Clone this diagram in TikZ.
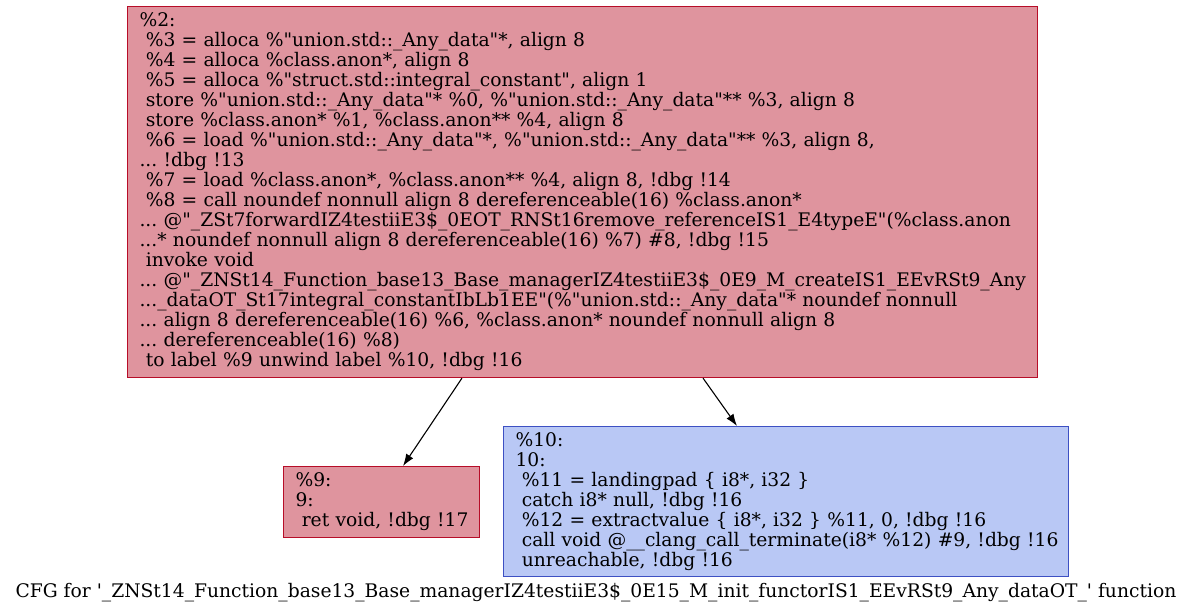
\documentclass[tikz,border=0pt]{standalone}
\usepackage{fontspec}
\usetikzlibrary{arrows.meta,calc}
% plain family without TeX ligatures, so quotes stay straight
\newfontfamily\gv{DejaVu Serif}
\definecolor{redfill}{RGB}{223,148,158}
\definecolor{redline}{HTML}{B70D28}
\definecolor{bluefill}{RGB}{185,200,245}
\definecolor{blueline}{HTML}{3D50C3}
\tikzset{
  gvfont/.style={font={\gv\fontsize{18.7}{20}\selectfont\frenchspacing\hyphenpenalty=10000}},
  block/.style={gvfont, rectangle, draw, line width=1.1pt, anchor=north west,
    align=left, inner xsep=12pt, inner ysep=0pt},
  hot/.style={block, fill=redfill, draw=redline},
  cold/.style={block, fill=bluefill, draw=blueline},
  edge/.style={line width=1.1pt, -{Latex[length=12pt,width=8.5pt]}}
}
\begin{document}
\begin{tikzpicture}[x=1pt,y=-1pt]
\useasboundingbox (0,0) rectangle (1193,613);

\node[hot, text width=886pt, minimum height=371pt] (b2) at (127,6) {%
\mbox{\%2:}\\
\mbox{\ \%3 = alloca \%"union.std::\_Any\_data"*, align 8}\\
\mbox{\ \%4 = alloca \%class.anon*, align 8}\\
\mbox{\ \%5 = alloca \%"struct.std::integral\_constant", align 1}\\
\mbox{\ store \%"union.std::\_Any\_data"* \%0, \%"union.std::\_Any\_data"** \%3, align 8}\\
\mbox{\ store \%class.anon* \%1, \%class.anon** \%4, align 8}\\
\mbox{\ \%6 = load \%"union.std::\_Any\_data"*, \%"union.std::\_Any\_data"** \%3, align 8,}\\
\mbox{... !dbg !13}\\
\mbox{\ \%7 = load \%class.anon*, \%class.anon** \%4, align 8, !dbg !14}\\
\mbox{\ \%8 = call noundef nonnull align 8 dereferenceable(16) \%class.anon*}\\
\mbox{... @"\_ZSt7forwardIZ4testiiE3\$\_0EOT\_RNSt16remove\_referenceIS1\_E4typeE"(\%class.anon}\\
\mbox{...* noundef nonnull align 8 dereferenceable(16) \%7) \#8, !dbg !15}\\
\mbox{\ invoke void}\\
\mbox{... @"\_ZNSt14\_Function\_base13\_Base\_managerIZ4testiiE3\$\_0E9\_M\_createIS1\_EEvRSt9\_Any}\\
\mbox{...\_dataOT\_St17integral\_constantIbLb1EE"(\%"union.std::\_Any\_data"* noundef nonnull}\\
\mbox{... align 8 dereferenceable(16) \%6, \%class.anon* noundef nonnull align 8}\\
\mbox{... dereferenceable(16) \%8)}\\
\mbox{\ to label \%9 unwind label \%10, !dbg !16}};

\node[hot, text width=172pt, minimum height=71pt] (b9) at (283,466) {%
\mbox{\%9:}\\
\mbox{9:}\\
\mbox{\ ret void, !dbg !17}};

\node[cold, text width=541pt, minimum height=150pt] (b10) at (503,426) {%
\mbox{\%10:}\\
\mbox{10:}\\
\mbox{\ \%11 = landingpad \{ i8*, i32 \}}\\
\mbox{\ catch i8* null, !dbg !16}\\
\mbox{\ \%12 = extractvalue \{ i8*, i32 \} \%11, 0, !dbg !16}\\
\mbox{\ call void @\_\_clang\_call\_terminate(i8* \%12) \#9, !dbg !16}\\
\mbox{\ unreachable, !dbg !16}};

\draw[edge] ($(b2.south west)+(335,0)$) -- ($(b9.north west)+(120,0)$);
\draw[edge] ($(b2.south west)+(576,0)$) -- ($(b10.north west)+(234,0)$);

\node[gvfont, anchor=base, inner sep=0pt] (title) at (596,597)
  {CFG for '\_ZNSt14\_Function\_base13\_Base\_managerIZ4testiiE3\$\_0E15\_M\_init\_functorIS1\_EEvRSt9\_Any\_dataOT\_' function};
\end{tikzpicture}
\end{document}
